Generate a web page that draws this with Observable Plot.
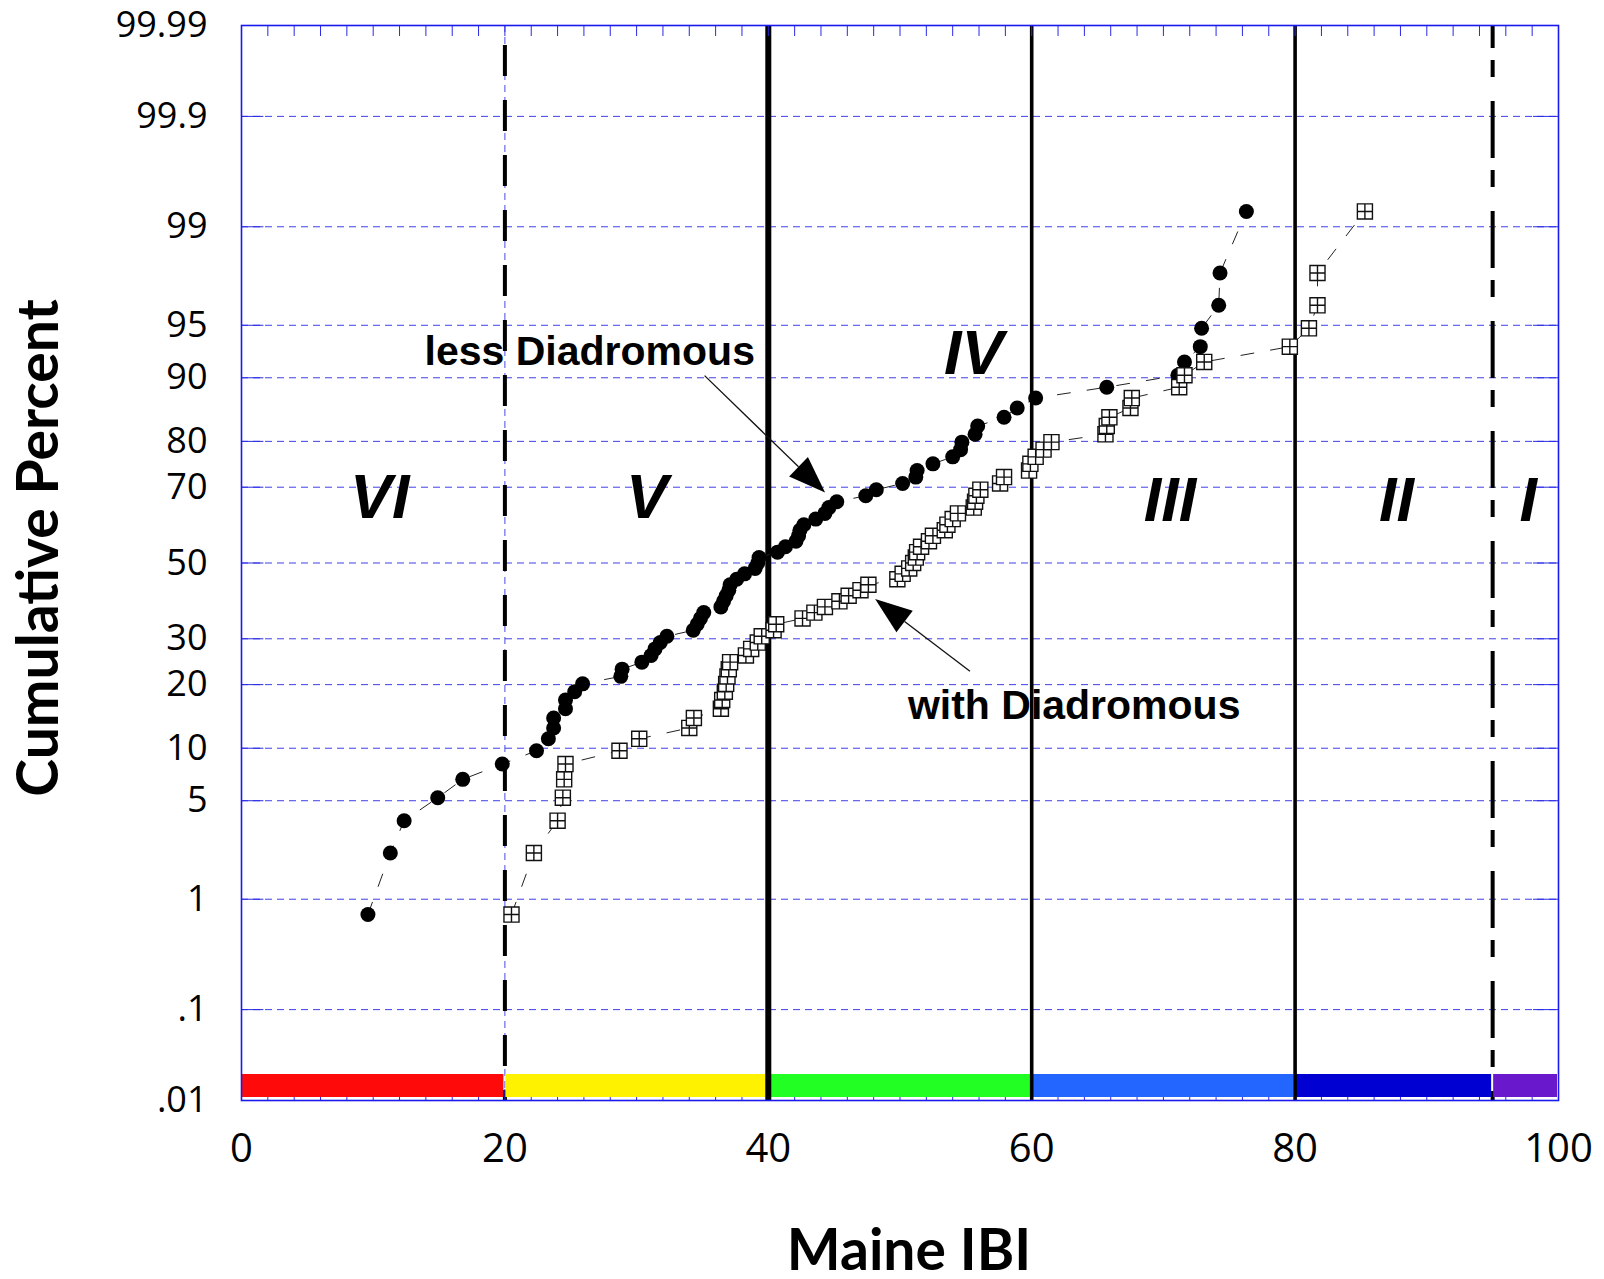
<!DOCTYPE html>
<html><head><meta charset="utf-8">
<script src="https://cdn.jsdelivr.net/npm/d3@7"></script>
<script src="https://cdn.jsdelivr.net/npm/@observablehq/plot@0.6"></script>
<style>body{margin:0;background:#fff}#chart{position:absolute;left:0;top:0}</style>
</head><body><div id="chart"></div>
<script>
// ---------- data ----------
const yTickValues = [0.01, 0.1, 1, 5, 10, 20, 30, 50, 70, 80, 90, 95, 99, 99.9, 99.99];
const yTickLabels = [".01", ".1", "1", "5", "10", "20", "30", "50", "70", "80", "90", "95", "99", "99.9", "99.99"];
const xTicks = [0, 20, 40, 60, 80, 100];
const xMinorTicks = [2,4,6,8,10,12,14,16,18,20,22,24,26,28,30,32,34,36,38,40,42,44,46,48,50,52,54,56,58,60,62,64,66,68,70,72,74,76,78,80,82,84,86,88,90,92,94,96,98];

// cumulative percent of each ranked site (plotting position)
const rankPercent = [0.75, 2.24, 3.73, 5.22, 6.72, 8.21, 9.70, 11.19, 12.69, 14.18, 15.67, 17.16, 18.66, 20.15, 21.64, 23.13, 24.63, 26.12, 27.61, 29.10, 30.60, 32.09, 33.58, 35.07, 36.57, 38.06, 39.55, 41.04, 42.54, 44.03, 45.52, 47.01, 48.51, 50.00, 51.49, 52.99, 54.48, 55.97, 57.46, 58.96, 60.45, 61.94, 63.43, 64.93, 66.42, 67.91, 69.40, 70.90, 72.39, 73.88, 75.37, 76.87, 78.36, 79.85, 81.34, 82.84, 84.33, 85.82, 87.31, 88.81, 90.30, 91.79, 93.28, 94.78, 96.27, 97.76, 99.25];

// Maine IBI, less diadromous species (filled circles)
const lessDiadromous = [9.6, 11.3, 12.35, 14.9, 16.8, 19.8, 22.4, 23.3, 23.7, 23.7, 24.6, 24.6, 25.3, 25.9, 28.8, 28.9, 30.4, 31.1, 31.4, 31.8, 32.3, 34.3, 34.6, 34.85, 35.1, 36.4, 36.6, 36.8, 37.0, 37.1, 37.6, 38.2, 39.0, 39.2, 39.3, 40.7, 41.3, 42.1, 42.3, 42.4, 42.7, 43.6, 44.3, 44.6, 45.2, 47.4, 48.2, 50.2, 51.2, 51.3, 52.5, 54.0, 54.6, 54.7, 55.7, 55.9, 57.9, 58.9, 60.3, 65.7, 71.1, 71.6, 72.8, 72.9, 74.2, 74.3, 76.3];

// Maine IBI, with diadromous species (open squares)
const withDiadromous = [20.5, 22.2, 24.0, 24.4, 24.5, 24.6, 28.7, 30.2, 34.0, 34.35, 36.4, 36.5, 36.7, 36.8, 36.9, 37.0, 37.1, 38.3, 38.7, 39.2, 39.5, 40.4, 40.6, 42.6, 43.5, 44.3, 45.4, 46.1, 47.0, 47.6, 49.8, 50.2, 50.7, 51.0, 51.2, 51.3, 51.6, 52.2, 52.5, 53.4, 53.6, 54.0, 54.4, 55.6, 55.7, 55.8, 56.1, 57.6, 57.9, 59.8, 59.9, 60.3, 60.9, 61.5, 65.6, 65.7, 65.9, 67.5, 67.6, 71.2, 71.6, 73.1, 79.6, 81.05, 81.7, 81.7, 85.3];

// condition classes
const bandStart = [0, 20, 40, 60, 80, 95];
const bandEnd = [20, 40, 60, 80, 95, 100];
const bandColor = ["#ff0a0a", "#fff200", "#22ff22", "#2266ff", "#0000d2", "#6a18cc"];
const classNames = ["VI", "V", "IV", "III", "II", "I"];
const classX = [10.5, 30.8, 55.6, 70.5, 87.7, 97.7];
const classPct = [67.3, 67.3, 92.6, 66.6, 66.6, 66.6];

// annotations
const noteText = ["less Diadromous", "with Diadromous"];
const noteX = [13.9, 50.6];
const notePct = [92.76, 16.06];
const arrowStartX = [35.2, 55.35];
const arrowStartPct = [90.2, 22.6];
const arrowEndX = [44.35, 48.15];
const arrowEndPct = [68.6, 40.0];

// ---------- helpers ----------
function probit(p) {
  const a=[-3.969683028665376e+01,2.209460984245205e+02,-2.759285104469687e+02,1.383577518672690e+02,-3.066479806614716e+01,2.506628277459239e+00];
  const b=[-5.447609879822406e+01,1.615858368580409e+02,-1.556989798598866e+02,6.680131188771972e+01,-1.328068155288572e+01];
  const c=[-7.784894002430293e-03,-3.223964580411365e-01,-2.400758277161838e+00,-2.549732539343734e+00,4.374664141464968e+00,2.938163982698783e+00];
  const d=[7.784695709041462e-03,3.224671290700398e-01,2.445134137142996e+00,3.754408661907416e+00];
  const pl = 0.02425, ph = 1 - pl;
  if (p < pl) { const q = Math.sqrt(-2*Math.log(p)); return (((((c[0]*q+c[1])*q+c[2])*q+c[3])*q+c[4])*q+c[5])/((((d[0]*q+d[1])*q+d[2])*q+d[3])*q+1); }
  if (p <= ph) { const q = p-0.5, r = q*q; return (((((a[0]*r+a[1])*r+a[2])*r+a[3])*r+a[4])*r+a[5])*q/(((((b[0]*r+b[1])*r+b[2])*r+b[3])*r+b[4])*r+1); }
  const q = Math.sqrt(-2*Math.log(1-p)); return -(((((c[0]*q+c[1])*q+c[2])*q+c[3])*q+c[4])*q+c[5])/((((d[0]*q+d[1])*q+d[2])*q+d[3])*q+1);
}
const toZ = pct => probit(pct / 100);
const zTicks = yTickValues.map(toZ);
const zMin = zTicks[0], zMax = zTicks[zTicks.length - 1];
const fmtY = v => yTickLabels[zTicks.findIndex(t => Math.abs(t - v) < 1e-9)];

const lessRows = lessDiadromous.map((x, i) => ({x, z: toZ(rankPercent[i])}));
const withRows = withDiadromous.map((x, i) => ({x, z: toZ(rankPercent[i])}));
const bands = bandStart.map((s, i) => ({x1: s, x2: bandEnd[i], fill: bandColor[i]}));
const classes = classNames.map((t, i) => ({t, x: classX[i], z: toZ(classPct[i])}));
const notes = noteText.map((t, i) => ({t, x: noteX[i], z: toZ(notePct[i])}));

const pxPerZ = (1100 - 25) / (zMax - zMin);
const bandZ1 = zMin + 3 / pxPerZ, bandZ2 = zMin + 26 / pxPerZ;
const tickZ = 11 / pxPerZ;

const boxPlus = {
  draw(ctx, size) {
    const h = Math.sqrt(size) / 2;
    ctx.moveTo(-h, -h); ctx.lineTo(h, -h); ctx.lineTo(h, h); ctx.lineTo(-h, h); ctx.closePath();
    ctx.moveTo(0, -h); ctx.lineTo(0, h);
    ctx.moveTo(-h, 0); ctx.lineTo(h, 0);
  }
};

function arrows(index, scales) {
  const sx = scales.x, sy = scales.y;
  const g = d3.create("svg:g");
  for (let k = 0; k < arrowStartX.length; k++) {
    const x1 = sx(arrowStartX[k]), y1 = sy(toZ(arrowStartPct[k]));
    const x2 = sx(arrowEndX[k]), y2 = sy(toZ(arrowEndPct[k]));
    const L = Math.hypot(x2 - x1, y2 - y1), ux = (x2 - x1) / L, uy = (y2 - y1) / L;
    const hl = 37, hw = 13.5;
    const bx = x2 - ux * hl, by = y2 - uy * hl;
    g.append("line").attr("x1", x1).attr("y1", y1).attr("x2", bx).attr("y2", by)
      .attr("stroke", "#111").attr("stroke-width", 1.3);
    g.append("path").attr("d", `M${x2},${y2}L${bx - uy * hw},${by + ux * hw}L${bx + uy * hw},${by - ux * hw}Z`)
      .attr("fill", "#000");
  }
  return g.node();
}

const blue = "#2a2ae6";
const chart = Plot.plot({
  width: 1604, height: 1279,
  marginLeft: 241, marginRight: 46, marginTop: 25, marginBottom: 179,
  x: {domain: [0, 100]},
  y: {domain: [zMin, zMax]},
  style: {background: "#fff", color: "#000", overflow: "visible"},
  marks: [
    Plot.ruleY(zTicks, {stroke: blue, strokeWidth: 1, strokeDasharray: "7,5", strokeOpacity: 0.9}),
    Plot.ruleX([20, 40, 60, 80], {stroke: blue, strokeWidth: 1, strokeDasharray: "7,5", strokeOpacity: 0.85}),
    Plot.ruleX([20], {stroke: "#000", strokeWidth: 4, strokeDasharray: "31,24", strokeDashoffset: 35}),
    Plot.ruleX([95], {stroke: "#000", strokeWidth: 4, strokeDasharray: "57,12,17,24", strokeDashoffset: 34}),
    Plot.ruleX(xMinorTicks, {y1: zMin, y2: zMin + tickZ, stroke: blue, strokeWidth: 1}),
    Plot.rect(bands, {x1: "x1", x2: "x2", y1: bandZ1, y2: bandZ2, fill: "fill", insetLeft: 1, insetRight: 1}),
    Plot.ruleX([40], {stroke: "#000", strokeWidth: 6}),
    Plot.ruleX([60, 80], {stroke: "#000", strokeWidth: 3.6}),
    Plot.ruleX(xMinorTicks, {y1: zMax, y2: zMax - tickZ, stroke: blue, strokeWidth: 1}),
    Plot.ruleY(zTicks, {x1: 0, x2: 1.7, stroke: blue, strokeWidth: 1}),
    Plot.ruleY(zTicks, {x1: 98.1, x2: 100, stroke: blue, strokeWidth: 1}),
    Plot.frame({stroke: "#1a1aee", strokeWidth: 1.6}),
    Plot.line(lessRows, {x: "x", y: "z", stroke: "#222", strokeWidth: 1, strokeDasharray: "13,17"}),
    Plot.line(withRows, {x: "x", y: "z", stroke: "#222", strokeWidth: 1, strokeDasharray: "13,17"}),
    Plot.dot(lessRows, {x: "x", y: "z", r: 7.5, fill: "#000", stroke: "none"}),
    Plot.dot(withRows, {x: "x", y: "z", r: 8.5, symbol: boxPlus, fill: "#fff", stroke: "#111", strokeWidth: 1.4}),
    arrows,
    Plot.text(notes, {x: "x", y: "z", text: "t", textAnchor: "start", lineAnchor: "middle", fontSize: 41, fontWeight: "bold", fontFamily: "Liberation Sans, Arial, sans-serif", fill: "#000"}),
    Plot.text(classes, {x: "x", y: "z", text: "t", lineAnchor: "middle", fontSize: 63, fontWeight: "bold", fontStyle: "italic", fontFamily: "Liberation Sans, Arial, sans-serif", fill: "#000"}),
    Plot.axisY(zTicks, {tickSize: 0, tickPadding: 34, tickFormat: fmtY, fontSize: 36, fontFamily: "Open Sans, sans-serif", label: null}),
    Plot.axisX(xTicks, {tickSize: 0, tickPadding: 33, fontSize: 40, fontFamily: "Open Sans, sans-serif", label: null}),
    Plot.text(["Cumulative Percent"], {text: d => d, frameAnchor: "left", textAnchor: "middle", lineAnchor: "middle", dx: -202, dy: -15, rotate: -90, fontSize: 57, fontWeight: "bold", fontFamily: "Lato, sans-serif", fill: "#000"}),
    Plot.text(["Maine IBI"], {text: d => d, frameAnchor: "bottom", textAnchor: "middle", lineAnchor: "middle", dx: 9, dy: 151, fontSize: 57, fontWeight: "bold", fontFamily: "Lato, sans-serif", fill: "#000"})
  ]
});
document.getElementById("chart").appendChild(chart);
</script>
</body></html>
